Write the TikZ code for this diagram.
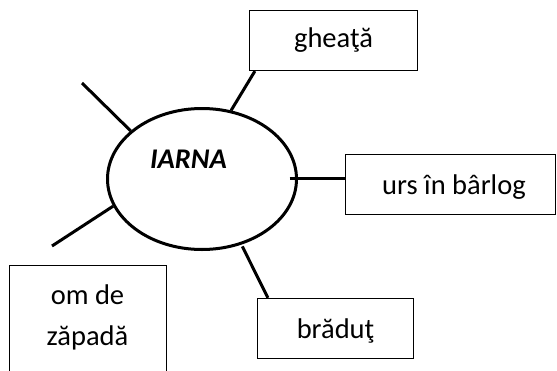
\documentclass[tikz,border=0pt]{standalone}
\usepackage{fontspec}
\setmainfont{Carlito}
\usetikzlibrary{shapes.geometric,calc}
\begin{document}
\begin{tikzpicture}[x=1pt,y=-1pt,
  lbl/.style={font=\fontsize{28.5}{41}\selectfont},
  box/.style={draw, line width=1.2pt, inner sep=0pt, lbl, text height=22pt, text depth=3pt},
  conn/.style={line width=3pt}]
\useasboundingbox (0,0) rectangle (557,370);
\clip (0,0) rectangle (557,370);
\node[draw, ellipse, line width=3pt, minimum width=189pt, minimum height=141pt, inner sep=0pt] (iarna) at (202,179) {};
\node[font=\fontsize{28.5}{41}\selectfont\bfseries\itshape, anchor=base, inner sep=0pt] (iarnatxt) at (188.5,168) {IARNA};
\node[box, minimum width=168pt, minimum height=60pt, text height=20pt, text depth=6pt] (gheata) at (333.5,40.5) {gheaţă};
\node[box, minimum width=210pt, minimum height=60pt] (urs) at (450.5,184.5) {\hspace{7pt}urs în bârlog};
\node[box, minimum width=156pt, minimum height=60pt] (bradut) at (335.5,328.5) {brăduţ};
\node[draw, line width=1.2pt, minimum width=157pt, minimum height=125pt, anchor=north, inner sep=0pt] (om) at (88,265) {};
\node[lbl, align=center, anchor=base, inner sep=0pt] (omtxt) at (87.5,345) {om de\\zăpadă};
\coordinate (tl) at (82,83);
\coordinate (bl) at (52,246);
\draw[conn] ($(gheata.south west)+(6,0)$) -- (iarna.67);
\draw[conn] ($(iarna.east)+(-8.5,-1)$) -- ($(urs.west)+(0,-6.5)$);
\draw[conn, shorten <=2pt] (iarna.-59) -- ($(bradut.north west)+(11,0)$);
\draw[conn] (tl) -- (iarna.146);
\draw[conn] (bl) -- (iarna.197);
\end{tikzpicture}
\end{document}
